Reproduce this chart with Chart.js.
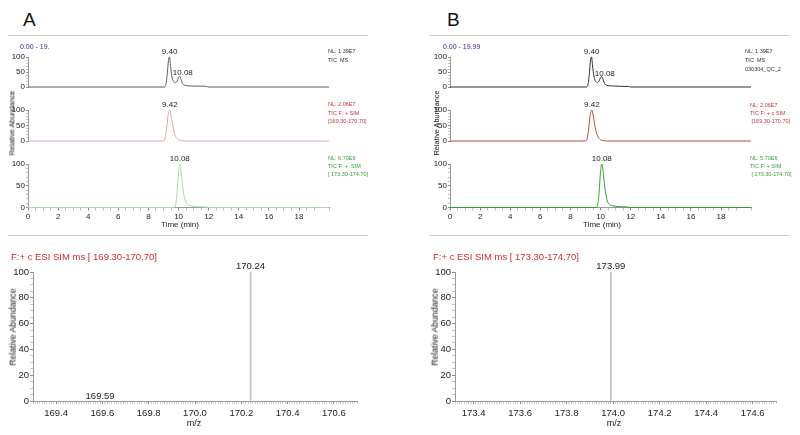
<!DOCTYPE html>
<html><head><meta charset="utf-8">
<script src="https://cdn.jsdelivr.net/npm/chart.js@4.4.1/dist/chart.umd.min.js"></script>
<style>
html,body{margin:0;padding:0;background:#fff;}
#page{position:relative;width:800px;height:435px;overflow:hidden;background:#fff;font-family:'Liberation Sans Narrow','Liberation Sans',Arial,sans-serif;}
canvas{position:absolute;}
.t{position:absolute;white-space:pre;line-height:1;}
.hr{position:absolute;height:1px;background:#cfcfcf;}
</style></head><body><div id="page"></div>
<script>
// ---------------- DATA ----------------
const timeRange = [0, 19.99];
const timeTickLabels = [0, 2, 4, 6, 8, 10, 12, 14, 16, 18];
const abundTickLabels = [0, 50, 100];
const specAbundTickLabels = [0, 20, 40, 60, 80, 100];

// Panel A chromatograms
const A_tic_t = [0, 9.05, 9.15, 9.25, 9.33, 9.40, 9.47, 9.55, 9.65, 9.78, 9.90, 10.00, 10.08, 10.17, 10.27, 10.40, 10.60, 11.00, 11.50, 11.85, 12.00, 19.99];
const A_tic_y = [0, 0, 6, 45, 88, 100, 68, 36, 20, 14, 19, 31, 36, 25, 11, 6, 4, 3, 3, 2, 0, 0];
const A_tic_peaks = [9.40, 10.08];
const A_sim170_t = [0, 9.00, 9.10, 9.20, 9.30, 9.42, 9.50, 9.60, 9.70, 9.80, 9.90, 10.00, 10.15, 10.40, 19.99];
const A_sim170_y = [0, 0, 8, 38, 82, 100, 84, 55, 30, 15, 8, 4, 2, 0, 0];
const A_sim170_peaks = [9.42];
const A_sim174_t = [0, 9.70, 9.80, 9.90, 10.00, 10.08, 10.16, 10.25, 10.35, 10.45, 10.60, 10.80, 11.20, 11.80, 12.00, 19.99];
const A_sim174_y = [0, 0, 6, 35, 82, 100, 84, 55, 30, 15, 7, 4, 2, 1, 0, 0];
const A_sim174_peaks = [10.08];

// Panel B chromatograms
const B_tic_t = [0, 9.05, 9.15, 9.25, 9.33, 9.40, 9.47, 9.55, 9.65, 9.78, 9.90, 10.00, 10.08, 10.17, 10.27, 10.40, 10.60, 11.00, 11.50, 11.85, 12.00, 19.99];
const B_tic_y = [0, 0, 5, 42, 87, 100, 70, 38, 21, 15, 20, 32, 35, 24, 11, 6, 4, 3, 2, 2, 0, 0];
const B_tic_peaks = [9.40, 10.08];
const B_sim170_t = [0, 9.00, 9.10, 9.20, 9.30, 9.42, 9.50, 9.60, 9.70, 9.80, 9.90, 10.00, 10.15, 10.40, 19.99];
const B_sim170_y = [0, 0, 7, 36, 80, 100, 85, 56, 31, 16, 8, 4, 2, 0, 0];
const B_sim170_peaks = [9.42];
const B_sim174_t = [0, 9.70, 9.80, 9.90, 10.00, 10.08, 10.16, 10.25, 10.35, 10.45, 10.60, 10.80, 11.20, 11.80, 12.00, 19.99];
const B_sim174_y = [0, 0, 5, 34, 83, 100, 85, 56, 31, 15, 7, 4, 2, 1, 0, 0];
const B_sim174_peaks = [10.08];

// Mass spectra
const specA_range = [169.3, 170.7];
const specA_tickLabels = [169.4, 169.6, 169.8, 170.0, 170.2, 170.4, 170.6];
const specA_mz = [169.59, 170.24];
const specA_int = [1, 100];
const specB_range = [173.32, 174.7];
const specB_tickLabels = [173.4, 173.6, 173.8, 174.0, 174.2, 174.4, 174.6];
const specB_mz = [173.99];
const specB_int = [100];

// ---------------- RENDER ----------------
const FONT = "'Liberation Sans Narrow','Liberation Sans',Arial,sans-serif";
Chart.defaults.font.family = FONT;
const axisColor = '#9a9a9a';
const page = document.getElementById('page');

function txt(s, x, y, size, color, align, rot, family) {
  const d = document.createElement('div');
  d.className = 't'; d.textContent = s;
  d.style.left = x + 'px'; d.style.top = y + 'px';
  d.style.fontSize = size + 'px'; d.style.color = color;
  if (family) d.style.fontFamily = family;
  const tx = rot ? '-50%' : (align === 'c' ? '-50%' : align === 'r' ? '-100%' : '0');
  d.style.transform = 'translate(' + tx + ',-50%)' + (rot ? ' rotate(-90deg)' : '');
  page.appendChild(d);
}
function hr(x, y, w) {
  const d = document.createElement('div'); d.className = 'hr';
  d.style.left = x + 'px'; d.style.top = y + 'px'; d.style.width = w + 'px';
  page.appendChild(d);
}
function peakPlugin(items, font, color, dx) {
  return {
    id: 'peakLabels',
    afterDatasetsDraw(chart) {
      const ctx = chart.ctx, xs = chart.scales.x, ys = chart.scales.y;
      ctx.save();
      ctx.font = font; ctx.fillStyle = color;
      ctx.textAlign = 'center'; ctx.textBaseline = 'bottom';
      items.forEach(p => ctx.fillText(p.text, xs.getPixelForValue(p.x) + (p.y < 90 ? dx : 0), ys.getPixelForValue(p.y) - 1 + (p.y < 90 ? 2 : 0)));
      ctx.restore();
    }
  };
}
function near(v, arr) { return arr.some(a => Math.abs(a - v) < 1e-6); }
function mkCanvas(left, top, w, h) {
  const c = document.createElement('canvas');
  c.width = w; c.height = h;
  c.style.left = left + 'px'; c.style.top = top + 'px';
  c.style.width = w + 'px'; c.style.height = h + 'px';
  page.appendChild(c);
  return c;
}

function traceChart(left, top, w, h, area, tArr, yArr, peaks, color, showX) {
  const c = mkCanvas(left, top, w, h);
  const xH = 14;
  const padB = showX ? h - (area.b - top) - xH : h - (area.b - top);
  const items = peaks.map(p => ({ x: p, y: yArr[tArr.indexOf(p)], text: p.toFixed(2) }));
  new Chart(c, {
    type: 'line',
    data: { datasets: [{ data: tArr.map((t, i) => ({ x: t, y: yArr[i] })), borderColor: color, borderWidth: 1,
      pointRadius: 0, cubicInterpolationMode: 'monotone', clip: false, fill: false }] },
    options: {
      responsive: false, animation: false, events: [], devicePixelRatio: 1,
      layout: { padding: { left: 0, right: left + w - area.r, top: area.t - top, bottom: padB } },
      plugins: { legend: { display: false }, tooltip: { enabled: false } },
      scales: {
        x: {
          type: 'linear', min: timeRange[0], max: timeRange[1], display: showX,
          afterFit: s => { s.height = xH; },
          grid: { drawOnChartArea: false, tickLength: 3,
            tickColor: ctx => near(ctx.tick.value, timeTickLabels) ? '#8a8a8a' : '#bdbdbd' },
          border: { color: axisColor },
          ticks: { stepSize: 0.5, autoSkip: false, maxRotation: 0, padding: 1, font: { size: 8 }, color: '#222',
            callback: v => near(v, timeTickLabels) ? String(Math.round(v)) : '' }
        },
        y: {
          min: 0, max: 100,
          afterFit: s => { s.width = area.l - left; },
          grid: { drawOnChartArea: false, tickLength: 2,
            tickColor: ctx => near(ctx.tick.value, abundTickLabels) ? '#8a8a8a' : '#c4c4c4' },
          border: { color: axisColor },
          ticks: { stepSize: 10, autoSkip: false, padding: 1, font: { size: 8 }, color: '#222',
            callback: v => near(v, abundTickLabels) ? String(v) : '' }
        }
      }
    },
    plugins: [peakPlugin(items, '8px ' + FONT, '#222', 3)]
  });
}

function specChart(left, top, w, h, area, range, tickLabels, mz, inten) {
  const c = mkCanvas(left, top, w, h);
  const xH = 19;
  const items = mz.map((m, i) => ({ x: m, y: inten[i], text: m.toFixed(2) }));
  new Chart(c, {
    type: 'bar',
    data: { datasets: [{ data: mz.map((m, i) => ({ x: m, y: inten[i] })), backgroundColor: '#c2c2c2',
      barThickness: 1, borderWidth: 0 }] },
    options: {
      responsive: false, animation: false, events: [], devicePixelRatio: 1,
      layout: { padding: { left: 0, right: left + w - area.r, top: area.t - top, bottom: h - (area.b - top) - xH } },
      plugins: { legend: { display: false }, tooltip: { enabled: false } },
      scales: {
        x: {
          type: 'linear', offset: false, min: range[0], max: range[1],
          afterFit: s => { s.height = xH; },
          grid: { offset: false, drawOnChartArea: false, tickLength: 3,
            tickColor: ctx => near(ctx.tick.value, tickLabels) ? '#8a8a8a' : '#d0d0d0' },
          border: { color: axisColor },
          ticks: { stepSize: 0.01, autoSkip: false, maxRotation: 0, padding: 4, font: { size: 9.5 }, color: '#222',
            callback: v => near(v, tickLabels) ? v.toFixed(1) : '' }
        },
        y: {
          min: 0, max: 100,
          afterFit: s => { s.width = area.l - left; },
          grid: { drawOnChartArea: false, tickLength: 3,
            tickColor: ctx => near(ctx.tick.value, specAbundTickLabels) ? '#8a8a8a' : '#c4c4c4' },
          border: { color: axisColor },
          ticks: { stepSize: 5, autoSkip: false, padding: 1, font: { size: 9.5 }, color: '#222',
            callback: v => near(v, specAbundTickLabels) ? String(v) : '' }
        }
      }
    },
    plugins: [peakPlugin(items, '9.5px ' + FONT, '#222', 0)]
  });
}

// separators
hr(8, 35, 360); hr(430, 35, 360); hr(8, 235, 360); hr(430, 235, 360);

// Panel letters
txt('A', 23, 18.5, 19, '#111', 'l', false, "'Liberation Sans',Arial,sans-serif");
txt('B', 447, 18.5, 19, '#111', 'l', false, "'Liberation Sans',Arial,sans-serif");

// Chromatogram panel A
const rowsA = [
  { top: 46, h: 60, t: 57, b: 101 },
  { top: 99, h: 61, t: 110, b: 155 },
  { top: 153, h: 80, t: 164, b: 207.5 }
];
traceChart(0, rowsA[0].top, 340, rowsA[0].h, { l: 28, r: 329, t: rowsA[0].t, b: rowsA[0].b }, A_tic_t, A_tic_y, A_tic_peaks, '#5a5a5a', false);
traceChart(0, rowsA[1].top, 340, rowsA[1].h, { l: 28, r: 329, t: rowsA[1].t, b: rowsA[1].b }, A_sim170_t, A_sim170_y, A_sim170_peaks, '#e3a3a3', false);
traceChart(0, rowsA[2].top, 340, rowsA[2].h, { l: 28, r: 329, t: rowsA[2].t, b: rowsA[2].b }, A_sim174_t, A_sim174_y, A_sim174_peaks, '#a9d8a9', true);

// Chromatogram panel B
traceChart(422, rowsA[0].top, 340, rowsA[0].h, { l: 450, r: 751, t: rowsA[0].t, b: rowsA[0].b }, B_tic_t, B_tic_y, B_tic_peaks, '#2e2e2e', false);
traceChart(422, rowsA[1].top, 340, rowsA[1].h, { l: 450, r: 751, t: rowsA[1].t, b: rowsA[1].b }, B_sim170_t, B_sim170_y, B_sim170_peaks, '#b4473f', false);
traceChart(422, rowsA[2].top, 340, rowsA[2].h, { l: 450, r: 751, t: rowsA[2].t, b: rowsA[2].b }, B_sim174_t, B_sim174_y, B_sim174_peaks, '#2f9f2f', true);

// Chromatogram texts
txt('0.00 - 19.', 20, 45.5, 7, '#2b2ba0', 'l');
txt('0.00 - 19.99', 443, 45.5, 7, '#2b2ba0', 'l');
txt('Relative Abundance', 12, 123, 7.3, '#111', 'c', true, "'Liberation Sans',Arial,sans-serif");
txt('Relative Abundance', 437, 123, 7.3, '#111', 'c', true, "'Liberation Sans',Arial,sans-serif");
txt('Time (min)', 180, 225, 8, '#222', 'c');
txt('Time (min)', 602, 225, 8, '#222', 'c');

const dark = '#333', red = '#c23a3a', green = '#3a9a3a';
txt('NL: 1.39E7', 328, 52, 5.5, dark, 'l');
txt('TIC  MS', 328, 61, 5.5, dark, 'l');
txt('NL: 2.06E7', 328, 105, 5.5, red, 'l');
txt('TIC F: + SIM', 328, 114, 5.5, red, 'l');
txt('[169.30-170.70]', 328, 122, 5.5, red, 'l');
txt('NL: 6.70E6', 328, 159, 5.5, green, 'l');
txt('TIC F: +  SIM', 328, 167, 5.5, green, 'l');
txt('[ 173.30-174.70]', 328, 175, 5.5, green, 'l');

txt('NL: 1.39E7', 745, 52, 5.5, dark, 'l');
txt('TIC  MS', 745, 61, 5.5, dark, 'l');
txt('030304_QC_2', 745, 70, 5.5, dark, 'l');
txt('NL: 2.06E7', 750, 106, 5.5, red, 'l');
txt('TIC F: + c SIM', 750, 114, 5.5, red, 'l');
txt(' [169.30-170.70]', 750, 122, 5.5, red, 'l');
txt('NL: 5.70E6', 750, 159, 5.5, green, 'l');
txt('TIC F: + SIM', 750, 167, 5.5, green, 'l');
txt(' [ 173.30-174.70]', 750, 175, 5.5, green, 'l');

// Spectra
specChart(0, 262, 370, 172, { l: 33, r: 357, t: 272, b: 401 }, specA_range, specA_tickLabels, specA_mz, specA_int);
specChart(410, 262, 380, 172, { l: 455, r: 776, t: 272, b: 401 }, specB_range, specB_tickLabels, specB_mz, specB_int);

txt('F:+ c ESI SIM ms [ 169.30-170.70]', 11, 257, 9.5, '#d42b2b', 'l');
txt('F:+ c ESI SIM ms [ 173.30-174.70]', 433, 257, 9.5, '#d42b2b', 'l');
txt('Relative Abundance', 13, 327, 8.7, '#111', 'c', true, "'Liberation Sans',Arial,sans-serif");
txt('Relative Abundance', 435, 327, 8.7, '#111', 'c', true, "'Liberation Sans',Arial,sans-serif");
txt('m/z', 194, 423, 9, '#222', 'c');
txt('m/z', 614, 423, 9, '#222', 'c');
</script>
</body></html>
